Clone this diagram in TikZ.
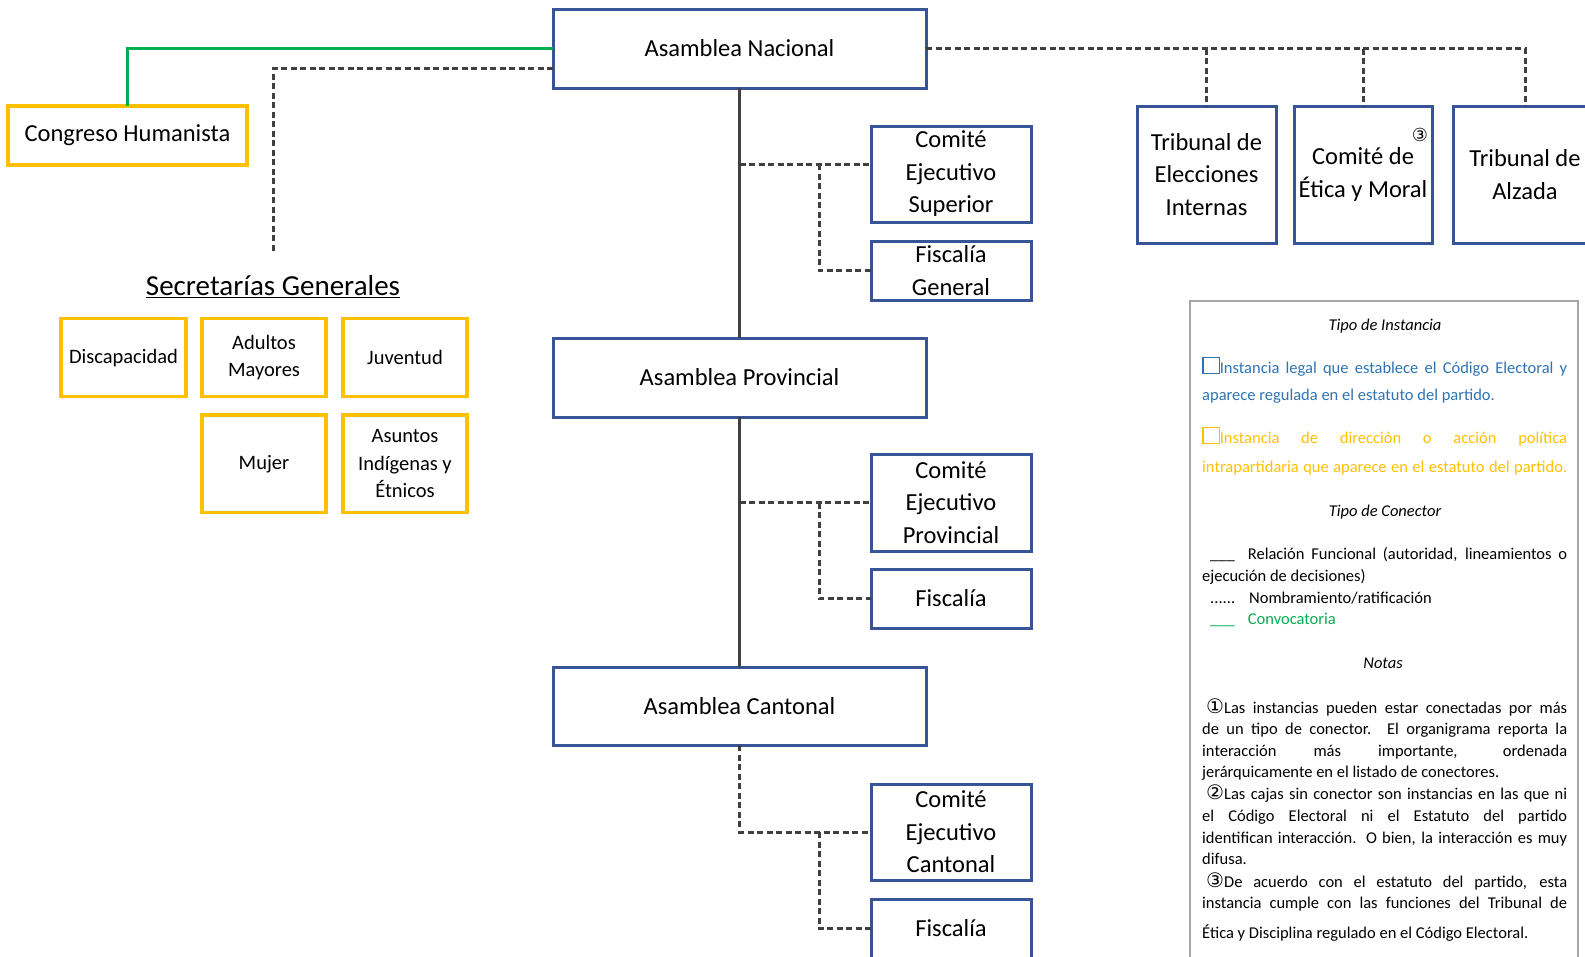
\documentclass[tikz,border=0pt]{standalone}
\usepackage{fontspec}
\setmainfont{Carlito}
\newfontfamily\dvs{DejaVu Sans}
\definecolor{boxblue}{RGB}{55,85,150}
\definecolor{gold}{RGB}{255,192,0}
\definecolor{conngray}{RGB}{64,64,64}
\definecolor{ggreen}{RGB}{0,176,80}
\definecolor{legblue}{RGB}{46,116,181}
\definecolor{leggray}{RGB}{166,166,166}
\newcommand\legsq[1]{{\color{#1}\setlength\fboxsep{0pt}\setlength\fboxrule{1.3pt}\fbox{\rule{0pt}{15pt}\rule{15pt}{0pt}}}}
\newcommand\jl[1]{\makebox[365pt][s]{#1}}
\newcommand\cnum[1]{{\dvs\fontsize{20}{20}\selectfont #1}}
\tikzset{
  bluebox/.style={draw=boxblue, line width=3pt, fill=white, align=center, inner sep=0pt, outer sep=0pt, font=\fontsize{24.5}{32.5}\selectfont},
  goldbox/.style={draw=gold, line width=3.5pt, fill=white, align=center, inner sep=0pt, outer sep=0pt, font=\fontsize{20.5}{27.5}\selectfont},
  solidconn/.style={draw=conngray, line width=3pt},
  dotconn/.style={draw=conngray, line width=3pt, dash pattern=on 6pt off 3.5pt},
  greenconn/.style={draw=ggreen, line width=3pt},
  legtxt/.style={anchor=base west, inner sep=0pt, font=\fontsize{16.5}{21}\selectfont},
  leghead/.style={anchor=base, inner sep=0pt, font=\itshape\fontsize{16.5}{21}\selectfont},
}
\begin{document}
\begin{tikzpicture}[x=1pt,y=-1pt]
\useasboundingbox (0,0) rectangle (1585,956);
\clip (0,0) rectangle (1585,956);
\fill[white] (0,0) rectangle (1585,956);

% main column
\node[bluebox, minimum width=373pt, minimum height=79pt] (AN) at (739.5,48.5) {Asamblea Nacional};
\node[bluebox, minimum width=373pt, minimum height=79pt] (AP) at (739.5,377.5) {Asamblea Provincial};
\node[bluebox, minimum width=373pt, minimum height=78pt] (AC) at (739.5,706) {Asamblea Cantonal};

\node[bluebox, minimum width=160pt, minimum height=96pt] (CES) at (951,174) {Comité\\Ejecutivo\\Superior};
\node[bluebox, minimum width=160pt, minimum height=59pt] (FG) at (951,270.5) {Fiscalía\\General};
\node[bluebox, minimum width=160pt, minimum height=97pt] (CEP) at (951,502.5) {Comité\\Ejecutivo\\Provincial};
\node[bluebox, minimum width=160pt, minimum height=59pt] (FP) at (951,598.5) {Fiscalía};
\node[bluebox, minimum width=160pt, minimum height=96pt] (CEC) at (951,832) {Comité\\Ejecutivo\\Cantonal};
\node[bluebox, minimum width=160pt, minimum height=59pt] (FC) at (951,928.5) {Fiscalía};

% top right
\node[bluebox, minimum width=139pt, minimum height=137pt] (TEI) at (1206.5,174.5) {Tribunal de\\Elecciones\\Internas};
\node[bluebox, minimum width=138pt, minimum height=137pt] (CEM) at (1363,174.5) {Comité de\\Ética y Moral};
\node[bluebox, minimum width=144pt, minimum height=137pt] (TA) at (1525,174.5) {Tribunal de\\Alzada};
\node[inner sep=0pt, font=\dvs\fontsize{18}{18}\selectfont] (n3) at (1420,135) {③};

% left
\node[goldbox, minimum width=239pt, minimum height=59pt, font=\fontsize{24.5}{32.5}\selectfont] (CH) at (127.5,135.5) {Congreso Humanista};
\node[inner sep=0pt, font=\fontsize{29}{32}\selectfont] (SG) at (273,287) {\underline{Secretarías Generales}};
\coordinate (sgin) at (273,253);
\node[goldbox, minimum width=125pt, minimum height=78pt] (SD) at (123.5,357.7) {Discapacidad};
\node[goldbox, minimum width=124pt, minimum height=78pt] (SAM) at (264,357.7) {Adultos\\Mayores};
\node[goldbox, minimum width=124pt, minimum height=78pt] (SJ) at (405,357.7) {Juventud};
\node[goldbox, minimum width=124pt, minimum height=97.7pt] (SM) at (264,463.8) {Mujer};
\node[goldbox, minimum width=124pt, minimum height=97.7pt] (SAI) at (405,463.8) {Asuntos\\Indígenas y\\Étnicos};

% connectors
\draw[solidconn] (AN.south) -- (AP.north);
\draw[solidconn] (AP.south) -- (AC.north);
\coordinate (cesin) at ([yshift=10pt]CES.west);
\draw[dotconn] (cesin -| AN.south) -- (cesin);
\draw[dotconn] ([xshift=-52pt]cesin) |- (FG.west);
\draw[dotconn] (CEP.west -| AP.south) -- (CEP.west);
\draw[dotconn] ([xshift=-52pt]CEP.west) |- (FP.west);
\draw[dotconn] (AC.south) |- (CEC.west);
\draw[dotconn] ([xshift=-52pt]CEC.west) |- (FC.west);
\draw[greenconn] (AN.west) -| (CH.north);
\draw[dotconn] ([yshift=-20pt]AN.west) -| (sgin);
\draw[dotconn] (AN.east) -| (TA.north);
\draw[dotconn] (AN.east -| TEI.north) -- (TEI.north);
\draw[dotconn] (AN.east -| CEM.north) -- (CEM.north);

% legend
\node[draw=leggray, line width=2pt, minimum width=388pt, minimum height=660pt, anchor=north west, inner sep=0pt] (LEG) at (1189,300) {};
\node[leghead] (lh1) at (1385,330) {Tipo de Instancia};
\node[legtxt, text=legblue] (lb1) at (1202,373) {\jl{\legsq{legblue}Instancia legal que establece el Código Electoral y}};
\node[legtxt, text=legblue] (lb2) at (1202,400) {aparece regulada en el estatuto del partido.};
\node[legtxt, text=gold] (lo1) at (1202,443) {\jl{\legsq{gold}Instancia de dirección o acción política}};
\node[legtxt, text=gold] (lo2) at (1202,472) {\jl{intrapartidaria que aparece en el estatuto del partido.}};
\node[leghead] (lh2) at (1385,516) {Tipo de Conector};
\node[legtxt] (lc1) at (1202,559) {\jl{\hspace{8pt}\_\_\_\hspace{13pt}Relación Funcional (autoridad, lineamientos o}};
\node[legtxt] (lc2) at (1202,581) {ejecución de decisiones)};
\node[legtxt] (lc3) at (1202,603) {\hspace{8pt}......\hspace{14pt}Nombramiento/ratificación};
\node[legtxt, text=ggreen] (lc4) at (1202,624) {\hspace{8pt}\_\_\_\hspace{13pt}Convocatoria};
\node[leghead] (lh3) at (1383,668) {Notas};
\node[legtxt] (ln1) at (1202,713) {\jl{\hspace{4pt}\cnum{①}Las instancias pueden estar conectadas por más}};
\node[legtxt] (ln2) at (1202,734) {\jl{de un tipo de conector. El organigrama reporta la}};
\node[legtxt] (ln3) at (1202,756) {\jl{interacción más importante, ordenada}};
\node[legtxt] (ln4) at (1202,777) {jerárquicamente en el listado de conectores.};
\node[legtxt] (ln5) at (1202,799) {\jl{\hspace{4pt}\cnum{②}Las cajas sin conector son instancias en las que ni}};
\node[legtxt] (ln6) at (1202,821) {\jl{el Código Electoral ni el Estatuto del partido}};
\node[legtxt] (ln7) at (1202,843) {\jl{identifican interacción. O bien, la interacción es muy}};
\node[legtxt] (ln8) at (1202,864) {difusa.};
\node[legtxt] (ln9) at (1202,887) {\jl{\hspace{4pt}\cnum{③}De acuerdo con el estatuto del partido, esta}};
\node[legtxt] (ln10) at (1202,908) {\jl{instancia cumple con las funciones del Tribunal de}};
\node[legtxt] (ln11) at (1202,938) {Ética y Disciplina regulado en el Código Electoral.};
\end{tikzpicture}
\end{document}
